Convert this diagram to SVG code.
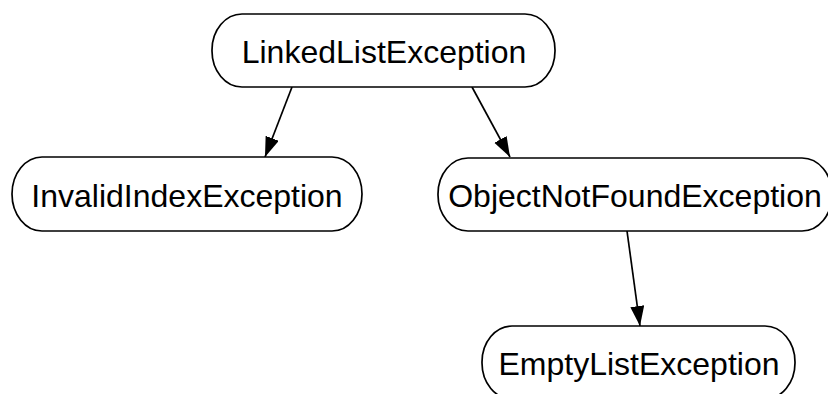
<svg xmlns="http://www.w3.org/2000/svg" width="828" height="394" viewBox="0 0 828 394">
<defs>
<style>
.node rect{fill:#fff;stroke:#000;stroke-width:1.7}
.node text{font-family:"Liberation Sans",Arial,sans-serif;font-size:32px;fill:#000;text-anchor:middle}
.edge{stroke:#000;stroke-width:1.7;fill:none;marker-end:url(#arr)}
</style>
<marker id="arr" markerUnits="userSpaceOnUse" markerWidth="22" markerHeight="16" refX="20" refY="7" orient="auto" viewBox="0 0 22 16">
<path d="M0,0 L20,7 L0,14 z" fill="#000"/>
</marker>
</defs>
<rect width="828" height="394" fill="#fff"/>
<g id="connectors">
<line class="edge" x1="292" y1="87" x2="265" y2="157"/>
<line class="edge" x1="472" y1="87" x2="510" y2="157"/>
<line class="edge" x1="627" y1="231" x2="640" y2="326"/>
</g>
<g id="LinkedListException" class="node">
<rect x="212" y="14" width="343" height="73" rx="30" ry="36"/>
<text x="384" y="63">LinkedListException</text>
</g>
<g id="InvalidIndexException" class="node">
<rect x="12" y="157" width="350" height="74" rx="30" ry="37"/>
<text x="187" y="207">InvalidIndexException</text>
</g>
<g id="ObjectNotFoundException" class="node">
<rect x="438" y="158" width="394" height="73" rx="30" ry="36"/>
<text x="635" y="207">ObjectNotFoundException</text>
</g>
<g id="EmptyListException" class="node">
<rect x="482" y="326" width="313" height="73" rx="30" ry="36"/>
<text x="639" y="375">EmptyListException</text>
</g>
</svg>
